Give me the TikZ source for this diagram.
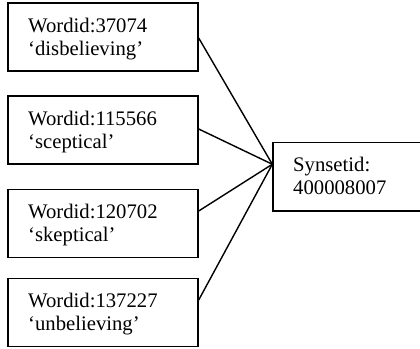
\documentclass[tikz,border=0pt]{standalone}
\usepackage{fontspec}
\setmainfont{Liberation Serif}
\usetikzlibrary{calc}
\tikzset{
  wbox/.style={draw=black, line width=1.4pt, minimum width=190pt, minimum height=68pt, inner sep=0pt},
  sbox/.style={draw=black, line width=1.4pt, minimum width=160pt, minimum height=68.5pt, inner sep=0pt},
  txt/.style={inner sep=0pt, anchor=base west, font=\fontsize{20.7}{23}\selectfont},
  conn/.style={draw=black, line width=1.4pt}
}
\newcommand{\twolines}[2]{\renewcommand{\arraystretch}{1}\begin{tabular}[t]{@{}l@{}}#1\\#2\end{tabular}}
\begin{document}
\begin{tikzpicture}[x=1pt, y=-1pt]
\useasboundingbox (0,0) rectangle (420,348);
\clip (0,0) rectangle (420,348);
\node[wbox] (w1) at (103,37) {};
\node[wbox] (w2) at (103,130) {};
\node[wbox] (w3) at (103,223.5) {};
\node[wbox] (w4) at (103,312.7) {};
\node[sbox] (s) at (353,176.75) {};
\node[txt] (t1) at (28,32) {\twolines{Wordid:37074}{‘disbelieving’}};
\node[txt] (t2) at (28,125) {\twolines{Wordid:115566}{‘sceptical’}};
\node[txt] (t3) at (28,218.5) {\twolines{Wordid:120702}{‘skeptical’}};
\node[txt] (t4) at (28,307.7) {\twolines{Wordid:137227}{‘unbelieving’}};
\node[txt] (ts) at (293,171.5) {\twolines{Synsetid:}{400008007}};
\coordinate (m) at ([yshift=12.5pt]s.west);
\draw[conn] ([yshift=-1pt]w1.east) -- (m);
\draw[conn] ([yshift=1pt]w2.east) -- (m);
\draw[conn] ([yshift=12.5pt]w3.east) -- (m);
\draw[conn] ([yshift=12.7pt]w4.east) -- (m);
\end{tikzpicture}
\end{document}
